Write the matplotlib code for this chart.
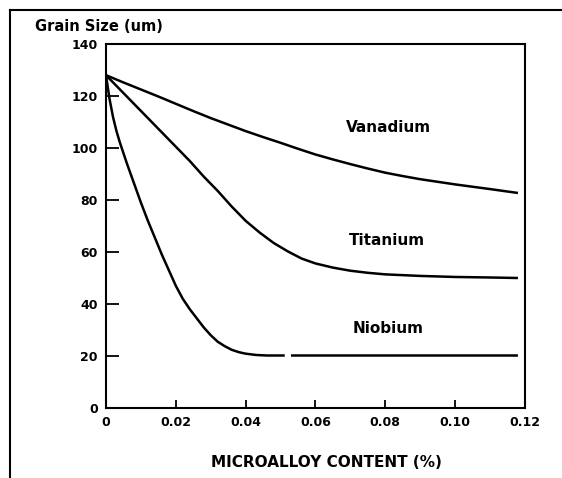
import numpy as np
import matplotlib.pyplot as plt
from matplotlib.lines import Line2D

# values (grain size in um vs microalloy content in %)
vanadium_x = [0, 0.005, 0.01, 0.015, 0.02, 0.025, 0.03, 0.035, 0.04, 0.045, 0.05, 0.055, 0.06,
              0.065, 0.07, 0.075, 0.08, 0.085, 0.09, 0.095, 0.10, 0.105, 0.11, 0.118]
vanadium_y = [128, 125.2, 122.5, 119.8, 117, 114.2, 111.5, 109, 106.5, 104.2, 102, 99.7, 97.5,
              95.6, 93.8, 92.1, 90.5, 89.2, 88, 87, 86, 85.1, 84.2, 82.7]

titanium_x = [0, 0.004, 0.008, 0.012, 0.016, 0.02, 0.024, 0.028, 0.032, 0.036, 0.04, 0.044,
              0.048, 0.052, 0.056, 0.06, 0.065, 0.07, 0.075, 0.08, 0.09, 0.10, 0.11, 0.118]
titanium_y = [128, 122.5, 117, 111.5, 106, 100.5, 95, 89, 83.5, 77.5, 72, 67.5,
              63.5, 60.3, 57.5, 55.6, 54, 52.8, 52, 51.4, 50.8, 50.4, 50.2, 50]

niobium_x = [0, 0.001, 0.002, 0.003, 0.004, 0.006, 0.008, 0.010, 0.012, 0.014, 0.016, 0.018,
             0.020, 0.022, 0.024, 0.026, 0.028, 0.030, 0.032, 0.034, 0.036, 0.038, 0.040,
             0.043, 0.046, 0.0512, 0.0513, 0.053, 0.118]
niobium_y = [128, 119, 112, 106.5, 102, 94, 86.5, 79, 72, 65.5, 59, 53,
             47, 42, 38, 34.5, 31, 28, 25.5, 23.8, 22.4, 21.5, 20.9,
             20.4, 20.2, 20.2, np.nan, 20.2, 20.2]

labels = ['Vanadium', 'Titanium', 'Niobium']
label_pos = [(0.0808, 107.7), (0.0806, 64.5), (0.0809, 30.5)]

x_ticks = [0, 0.02, 0.04, 0.06, 0.08, 0.10, 0.12]
x_ticklabels = ['0', '0.02', '0.04', '0.06', '0.08', '0.10', '0.12']
y_ticks = [0, 20, 40, 60, 80, 100, 120, 140]

fig = plt.figure(figsize=(5.62, 4.78), dpi=100)
ax = fig.add_axes([0.1886, 0.1464, 0.7454, 0.7616])

for xs, ys in [(vanadium_x, vanadium_y), (titanium_x, titanium_y), (niobium_x, niobium_y)]:
    ax.plot(xs, ys, color='black', linewidth=1.8, solid_capstyle='butt', solid_joinstyle='round')

for name, (tx, ty) in zip(labels, label_pos):
    ax.text(tx, ty, name, fontsize=11, fontweight='bold', ha='center', va='center')

ax.set_xlim(0, 0.12)
ax.set_ylim(0, 140)
ax.set_xticks(x_ticks)
ax.set_xticklabels(x_ticklabels)
ax.set_yticks(y_ticks)
ax.tick_params(axis='both', direction='in', width=1.3, labelsize=9, colors='black')
ax.tick_params(axis='y', length=9, pad=6)
ax.tick_params(axis='x', length=6, pad=6)
for lab in ax.get_xticklabels() + ax.get_yticklabels():
    lab.set_fontweight('bold')
for side in ['left', 'right', 'top', 'bottom']:
    ax.spines[side].set_linewidth(1.5)

ax.set_xlabel('MICROALLOY CONTENT (%)', fontsize=11, fontweight='bold')
ax.xaxis.set_label_coords(0.527, -0.128)
fig.text(0.062, 0.944, 'Grain Size (um)', fontsize=10.5, fontweight='bold', ha='left', va='center')

# outer frame of the scanned figure (top and left edges only)
fig.add_artist(Line2D([0.0178, 1.0], [0.979, 0.979], color='black', linewidth=1.5,
                      transform=fig.transFigure))
fig.add_artist(Line2D([0.0178, 0.0178], [0.0, 0.979], color='black', linewidth=1.5,
                      transform=fig.transFigure))

plt.savefig('out.png', dpi=100)
